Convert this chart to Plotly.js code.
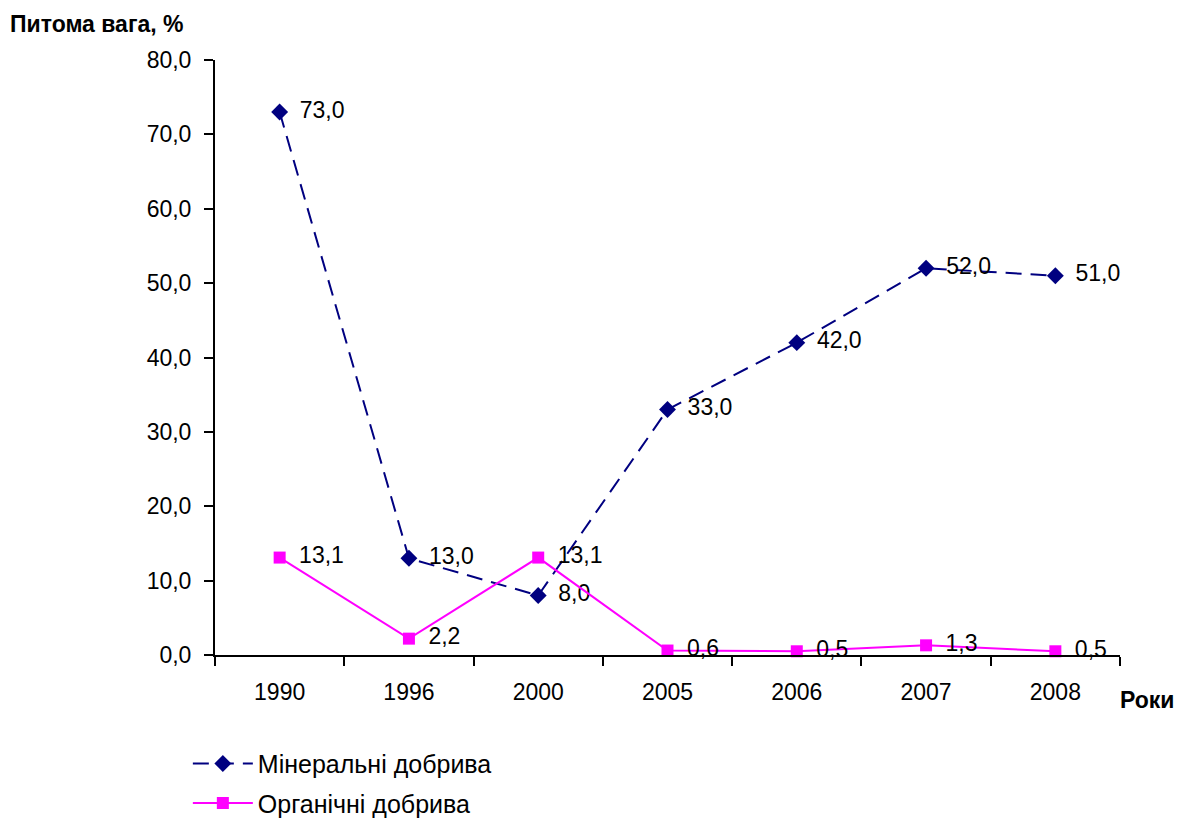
<!DOCTYPE html>
<html>
<head>
<meta charset="utf-8">
<script src="https://cdn.plot.ly/plotly-3.0.1.min.js"></script>
<style>html,body{margin:0;padding:0;background:#fff;}#chart{width:1186px;height:821px;}</style>
</head>
<body>
<div id="chart"></div>
<script>
var years = ['1990', '1996', '2000', '2005', '2006', '2007', '2008'];
var mineral = [73.0, 13.0, 8.0, 33.0, 42.0, 52.0, 51.0];
var organic = [13.1, 2.2, 13.1, 0.6, 0.5, 1.3, 0.5];
var yTicks = [0, 10, 20, 30, 40, 50, 60, 70, 80];

var font = 'Liberation Sans, Arial, sans-serif';

var traces = [
  {
    x: years, y: mineral, name: 'Мінеральні добрива', legendgroup: 'a',
    type: 'scatter', mode: 'lines+markers+text',
    line: {color: '#000080', width: 2, dash: '16px,9px'},
    marker: {symbol: 'diamond', size: 13, color: '#000080'},
    texttemplate: ' \u2009%{y:.1f}', textposition: 'middle right',
    textfont: {family: font, size: 23, color: '#000'},
    cliponaxis: false
  },
  {
    x: years, y: organic, name: 'Органічні добрива', legendgroup: 'b',
    type: 'scatter', mode: 'lines+markers+text',
    line: {color: '#FF00FF', width: 2},
    marker: {symbol: 'square', size: 12, color: '#FF00FF'},
    texttemplate: ' \u2009%{y:.1f}', textposition: 'middle right',
    textfont: {family: font, size: 23, color: '#000'},
    cliponaxis: false
  }
];

var layout = {
  width: 1186, height: 821,
  margin: {l: 215, r: 66, t: 60, b: 166, autoexpand: false},
  paper_bgcolor: '#fff', plot_bgcolor: '#fff',
  separators: ', ',
  font: {family: font, size: 23, color: '#000'},
  showlegend: true,
  legend: {
    x: -0.03, y: -0.144, xanchor: 'left', yanchor: 'top',
    orientation: 'v', font: {family: font, size: 25, color: '#000'},
    tracegroupgap: 4, itemwidth: 60
  },
  xaxis: {
    type: 'category', range: [-0.5, 6.5], automargin: false,
    showline: true, linecolor: '#000', linewidth: 2,
    ticks: 'outside', tickson: 'boundaries', ticklen: 9, tickwidth: 2, tickcolor: '#000',
    ticklabelstandoff: 15,
    showgrid: false, zeroline: false,
    tickfont: {family: font, size: 23, color: '#000'}
  },
  yaxis: {
    range: [0, 80], tickvals: yTicks, tickformat: '.1f', automargin: false,
    showline: true, linecolor: '#000', linewidth: 2,
    ticks: 'outside', ticklen: 9, tickwidth: 2, tickcolor: '#000',
    ticklabelstandoff: 8,
    showgrid: false, zeroline: false,
    tickfont: {family: font, size: 23, color: '#000'}
  },
  annotations: [
    {text: '<b>Питома вага, %</b>', xref: 'paper', yref: 'paper',
     x: -0.229, y: 1.06, xanchor: 'left', yanchor: 'middle', showarrow: false,
     font: {family: font, size: 23, color: '#000'}},
    {text: '<b>Роки</b>', xref: 'paper', yref: 'paper',
     x: 0.998, y: -0.075, xanchor: 'left', yanchor: 'middle', showarrow: false,
     font: {family: font, size: 23, color: '#000'}}
  ]
};

Plotly.newPlot('chart', traces, layout, {displayModeBar: false, staticPlot: true});
</script>
</body>
</html>
